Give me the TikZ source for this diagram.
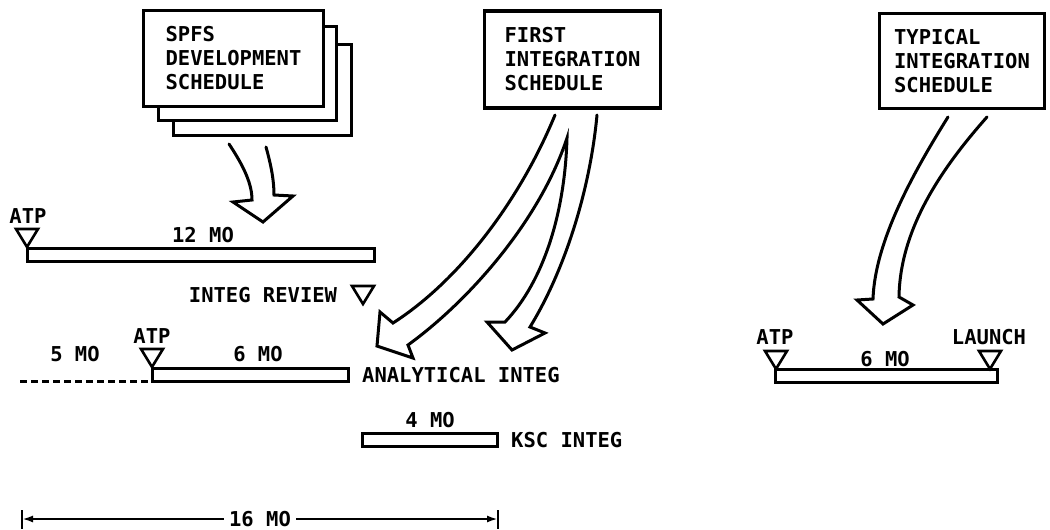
\documentclass[tikz,border=0pt]{standalone}
\usepackage{fontspec}
\setmainfont{DejaVu Sans Mono}
\usetikzlibrary{arrows.meta}
\tikzset{
  ttri/.pic={\draw[line width=2.6pt, line join=miter] (-11,-18) -- (11,-18) -- (0,0) -- cycle;}
}
\begin{document}
\begin{tikzpicture}[x=1pt,y=-1pt,
  every node/.style={font=\fontsize{20.5}{24}\selectfont\bfseries},
  lbl/.style={inner sep=0pt},
  sched/.style={draw, line width=3.4pt, fill=white, align=left, inner sep=0pt},
  bar/.style={draw, line width=3pt, inner sep=0pt, outer sep=0pt, fill=white},
  flow/.style={draw, line width=3pt, line join=miter, line cap=round},
  dim/.style={line width=2.8pt},
]
\useasboundingbox[fill=white] (0,0) rectangle (1050,530);

% --- schedule boxes ---
\node[sched, minimum width=178pt, minimum height=91pt] (spfs3) at (262.5,90) {};
\node[sched, minimum width=178pt, minimum height=94pt] (spfs2) at (247.5,73.5) {};
\node[sched, minimum width=180pt, minimum height=96pt] (spfs) at (233.5,58.5) {SPFS\\DEVELOPMENT\\SCHEDULE};
\node[sched, minimum width=176pt, minimum height=97pt] (first) at (572.5,59.5) {FIRST\\INTEGRATION\\SCHEDULE};
\node[sched, minimum width=165pt, minimum height=95pt] (typ) at (962,61) {TYPICAL\\INTEGRATION\\SCHEDULE};

% --- hollow curved arrows ---
\draw[flow] (229,144) .. controls (245,168) and (252,185) .. (252,200)
  -- (233,202) -- (263,222) -- (293,196) -- (274,195)
  .. controls (274,180) and (271,165) .. (266,147);

\draw[flow] (555,115) .. controls (520,200) and (460,280) .. (393,323)
  -- (380,312) -- (377,346) -- (413,358) -- (408,345)
  .. controls (470,300) and (540,220) .. (567,138)
  .. controls (565,210) and (545,280) .. (505,322)
  -- (487,322) -- (512,350) -- (545,333) -- (530,327)
  .. controls (565,270) and (590,190) .. (597,115);

\draw[flow] (948,117) .. controls (915,170) and (875,240) .. (873,299)
  -- (857,300) -- (883,324) -- (913,305) -- (899,297)
  .. controls (900,230) and (940,170) .. (987,117);

% --- 12 MO row ---
\node[bar, minimum width=347pt, minimum height=13pt] (bar12) at (200.5,255) {};
\pic at (27,247) {ttri};
\node[lbl] (atp1) at (28,216) {ATP};
\node[lbl] (mo12) at (203,235) {12 MO};

% --- integ review ---
\node[lbl] (review) at (263,295) {INTEG REVIEW};
\pic at (363,304) {ttri};

% --- analytical integ row ---
\node[bar, minimum width=196pt, minimum height=13pt] (baran) at (250,375) {};
\coordinate (dashstart) at (20,0);
\draw[dim, dash pattern=on 7pt off 4pt] (dashstart |- baran.south west) -- (baran.south west);
\pic at (152,367) {ttri};
\node[lbl] (atp2) at (152,336) {ATP};
\node[lbl] (mo5) at (75,354) {5 MO};
\node[lbl] (mo6a) at (258,354) {6 MO};
\node[lbl, anchor=west] (anal) at (362,375) {ANALYTICAL INTEG};

% --- KSC integ row ---
\node[bar, minimum width=135pt, minimum height=13pt] (barksc) at (429.5,440) {};
\node[lbl] (mo4) at (430,420) {4 MO};
\node[lbl, anchor=west] (ksc) at (511,440) {KSC INTEG};

% --- typical row ---
\node[bar, minimum width=222pt, minimum height=13pt] (bartyp) at (886,376) {};
\pic at (776,369) {ttri};
\pic at (990,369) {ttri};
\node[lbl] (atp3) at (775,337) {ATP};
\node[lbl] (launch) at (989,337) {LAUNCH};
\node[lbl] (mo6b) at (885,359) {6 MO};

% --- 16 MO dimension ---
\coordinate (dl) at (22,519);
\coordinate (dr) at (498,519);
\node[lbl, inner xsep=5pt] (mo16) at (260,519) {16 MO};
\draw[dim, -{Latex[length=11pt,width=7pt]}] (mo16.west) -- (dl);
\draw[dim, -{Latex[length=11pt,width=7pt]}] (mo16.east) -- (dr);
\draw[dim] (22,510) -- (22,529);
\draw[dim] (498,510) -- (498,529);
\end{tikzpicture}
\end{document}
